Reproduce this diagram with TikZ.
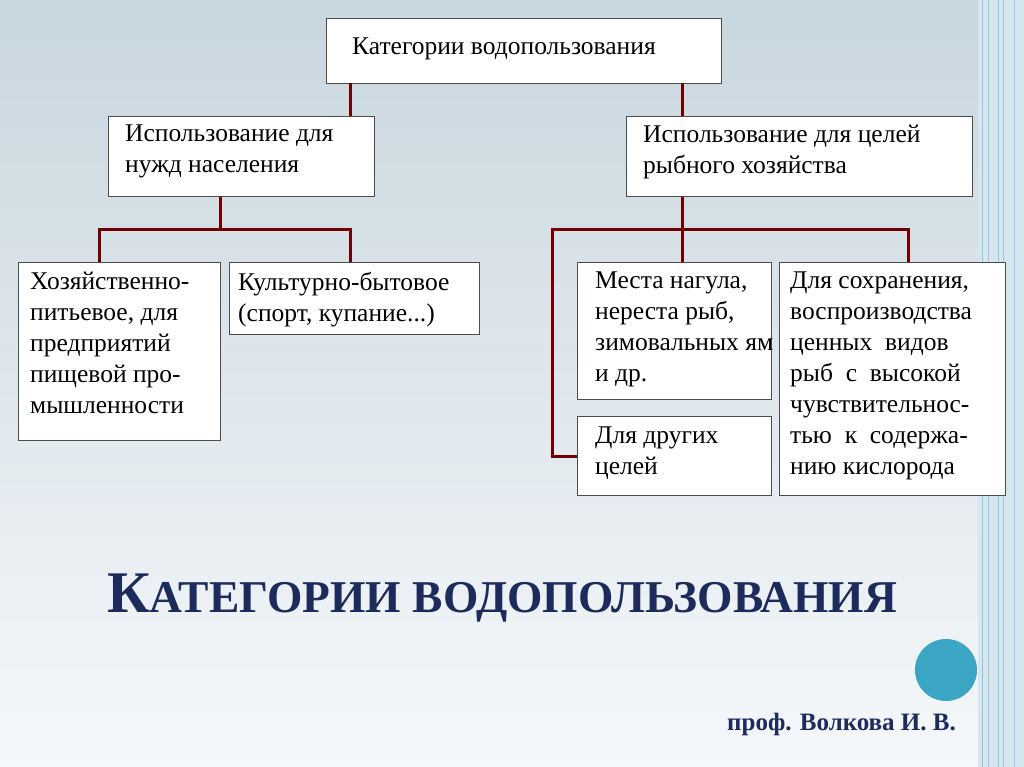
\documentclass[tikz,border=0pt]{standalone}
\usepackage{fontspec}
\setmainfont{Liberation Serif}
\definecolor{navy}{HTML}{1C2A5C}
\definecolor{bgtop}{RGB}{200,214,222}
\definecolor{bgbot}{RGB}{245,248,250}
\definecolor{stripe}{RGB}{214,230,238}
\definecolor{dot}{RGB}{58,166,196}
\begin{document}
\begin{tikzpicture}[x=1pt,y=-1pt,
  box/.style={draw=black!70,line width=0.8pt,fill=white,anchor=north west,inner sep=0pt},
  txt/.style={anchor=north west,inner sep=0pt,align=left,font=\fontsize{25.5}{31}\selectfont},
  con/.style={draw=red!45!black,line width=3pt}]
\useasboundingbox (0,0) rectangle (1024,767);
\shade[top color=bgtop,bottom color=bgbot] (0,0) rectangle (1024,767);
\fill[stripe] (978,0) rectangle (1024,767);
\foreach \xx/\cc in {982/60,988/40,998/70,1003/40,1014/55}{\draw[cyan!\cc!gray!60,line width=1pt] (\xx,0) -- (\xx,767);}
% boxes
\node[box,minimum width=395,minimum height=65] (top) at (326,18) {};
\node[box,minimum width=266,minimum height=80] (l1) at (108,116) {};
\node[box,minimum width=346,minimum height=80] (r1) at (626,116) {};
\node[box,minimum width=202,minimum height=178] (a) at (18,262) {};
\node[box,minimum width=250,minimum height=72] (b) at (229,262) {};
\node[box,minimum width=194,minimum height=137] (c) at (577,262) {};
\node[box,minimum width=194,minimum height=79] (d) at (577,416) {};
\node[box,minimum width=226,minimum height=233] (e) at (779,262) {};
% connectors
\coordinate (h1) at (220,230);
\coordinate (h2) at (682,230);
\draw[con] (350,83) -- (350,116);
\draw[con] (682,83) -- (682,116);
\draw[con] (h1 |- l1.south) -- (h1);
\draw[con] (99,262) |- (350,230) -- (350,262);
\draw[con] (h2 |- r1.south) -- (h2) -- (682,262);
\draw[con] (908,262) |- (552,230) |- (577,456);
% texts
\node[txt] at (352,38) {Категории водопользования};
\node[txt] at (125,125) {Использование для\\нужд населения};
\node[txt] at (643,125) {Использование для целей\\рыбного хозяйства};
\node[txt] at (30,272) {Хозяйственно-\\питьевое, для\\предприятий\\пищевой про-\\мышленности};
\node[txt] at (238,272) {Культурно-бытовое\\(спорт, купание...)};
\node[txt] at (595,272) {Места нагула,\\нереста рыб,\\зимовальных ям\\и др.};
\node[txt] at (595,427) {Для других\\целей};
\node[txt] at (790,272) {Для сохранения,\\воспроизводства\\ценных\ \ видов\\рыб\ \ с\ \ высокой\\чувствительнос-\\тью\ \ к\ \ содержа-\\нию кислорода};
\node[anchor=base west,inner sep=0pt,text=navy,font=\bfseries] (title) at (107,612) {{\fontsize{59}{59}\selectfont К}{\fontsize{45.5}{46}\selectfont АТЕГОРИИ ВОДОПОЛЬЗОВАНИЯ}};
\fill[dot] (946,670) circle (31);
\node[anchor=base west,inner sep=0pt,text=navy,font=\bfseries\fontsize{25}{28}\selectfont] (auth) at (727,730) {проф. Волкова И. В.};
\end{tikzpicture}
\end{document}
